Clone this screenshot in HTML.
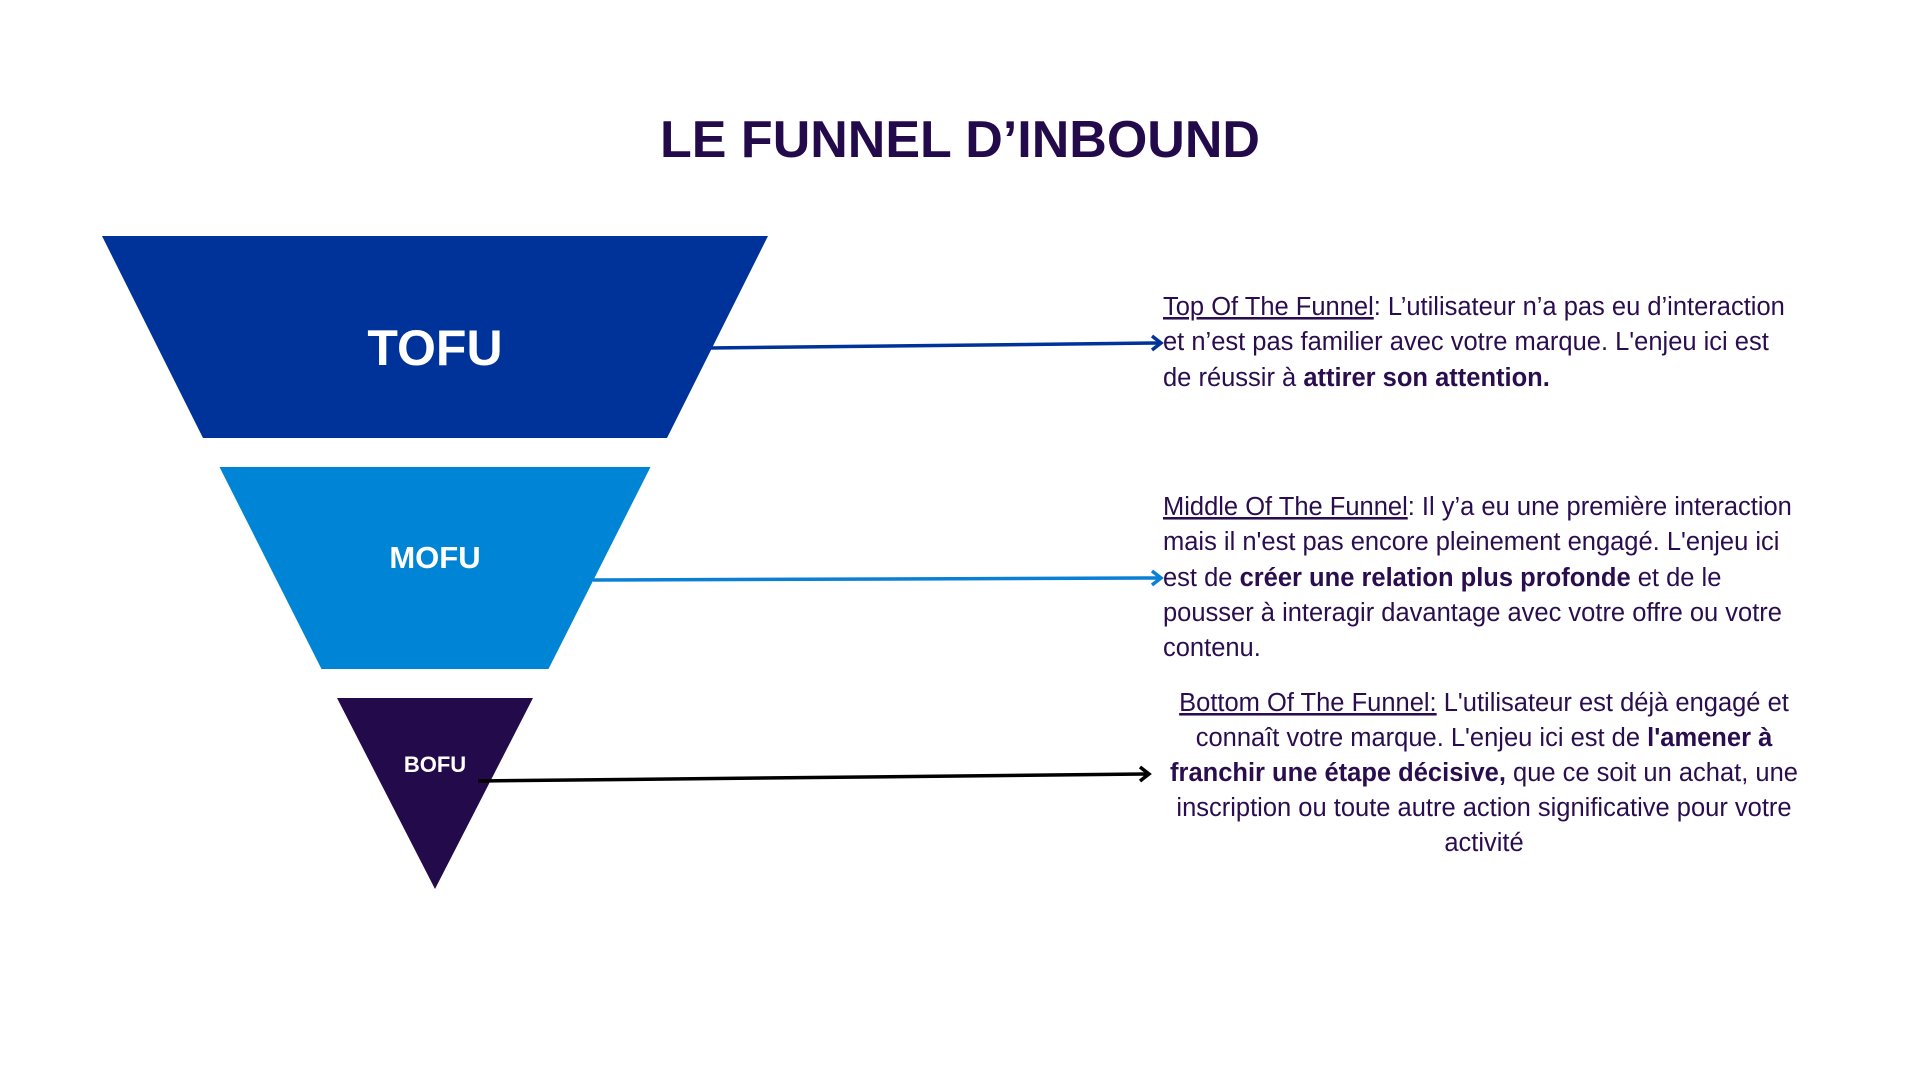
<!DOCTYPE html>
<html><head><meta charset="utf-8"><style>
html,body{margin:0;padding:0;background:#fff;}
svg{display:block;}
text{font-family:"Liberation Sans","DejaVu Sans",sans-serif;}
.d{fill:#2a0d4e;font-size:25.5px;}
.b{font-weight:bold;}
</style></head><body>
<svg id="chart" width="1920" height="1080" viewBox="0 0 1920 1080">
<text x="960" y="157" text-anchor="middle" font-size="52" font-weight="bold" fill="#230a4a">LE FUNNEL D’INBOUND</text>
<g id="funnel"></g>
<g id="arrows"></g>
<g>
<text class="d" x="1163" y="315"><tspan text-decoration="underline">Top Of The Funnel</tspan>: L’utilisateur n’a pas eu d’interaction</text>
<text class="d" x="1163" y="350">et n’est pas familier avec votre marque. L'enjeu ici est</text>
<text class="d" x="1163" y="386">de réussir à <tspan class="b">attirer son attention.</tspan></text>
</g>
<g>
<text class="d" x="1163" y="515"><tspan text-decoration="underline">Middle Of The Funnel</tspan>: Il y’a eu une première interaction</text>
<text class="d" x="1163" y="550">mais il n'est pas encore pleinement engagé. L'enjeu ici</text>
<text class="d" x="1163" y="586">est de <tspan class="b">créer une relation plus profonde</tspan> et de le</text>
<text class="d" x="1163" y="621">pousser à interagir davantage avec votre offre ou votre</text>
<text class="d" x="1163" y="656">contenu.</text>
</g>
<g text-anchor="middle">
<text class="d" x="1484" y="711"><tspan text-decoration="underline">Bottom Of The Funnel:</tspan> L'utilisateur est déjà engagé et</text>
<text class="d" x="1484" y="746">connaît votre marque. L'enjeu ici est de <tspan class="b">l'amener à</tspan></text>
<text class="d" x="1484" y="781"><tspan class="b">franchir une étape décisive,</tspan> que ce soit un achat, une</text>
<text class="d" x="1484" y="816">inscription ou toute autre action significative pour votre</text>
<text class="d" x="1484" y="851">activité</text>
</g>
</svg>
<script>
const stages = ["TOFU","MOFU","BOFU"];
const stageColors = ["#003399","#0085d6","#230a4a"];
const topWidths = [666, 431, 196];
const bottomWidths = [464, 227, 0];
const labelSizes = [50, 31, 22];
const arrowColors = ["#003399","#0a7fd4","#000000"];
const NS="http://www.w3.org/2000/svg";
const cx=435, tops=[236,467,698], heights=[202,202,191];
const labelOffsets=[111, 90, 66];
const arrowStart=[[710,348],[593,580],[478,781]];
const arrowEnd=[[1161,343],[1161,578],[1149,774]];
const fg=document.getElementById('funnel'), ag=document.getElementById('arrows');
stages.forEach((s,i)=>{
  const y0=tops[i], y1=y0+heights[i], tw=topWidths[i]/2, bw=bottomWidths[i]/2;
  const p=document.createElementNS(NS,'polygon');
  p.setAttribute('points',`${cx-tw},${y0} ${cx+tw},${y0} ${cx+bw},${y1} ${cx-bw},${y1}`);
  p.setAttribute('fill',stageColors[i]);
  
  
  fg.appendChild(p);
  const t=document.createElementNS(NS,'text');
  const ty = y0+labelOffsets[i];
  t.setAttribute('x',cx);t.setAttribute('y',ty+labelSizes[i]*0.36);
  t.setAttribute('text-anchor','middle');t.setAttribute('fill','#fff');
  t.setAttribute('font-weight','bold');t.setAttribute('font-size',labelSizes[i]);
  t.textContent=s;
  
  
  fg.appendChild(t);
  const [x1,y1a]=arrowStart[i],[x2,y2]=arrowEnd[i];
  const l=document.createElementNS(NS,'line');
  l.setAttribute('x1',x1);l.setAttribute('y1',y1a);l.setAttribute('x2',x2-2);l.setAttribute('y2',y2);
  l.setAttribute('stroke',arrowColors[i]);l.setAttribute('stroke-width',3.5);
  
  
  ag.appendChild(l);
  const h=document.createElementNS(NS,'polyline');
  h.setAttribute('points',`${x2-9},${y2-7} ${x2},${y2} ${x2-9},${y2+7}`);
  h.setAttribute('fill','none');h.setAttribute('stroke',arrowColors[i]);h.setAttribute('stroke-width',3.5);
  
  
  ag.appendChild(h);
});
</script>
</body></html>
